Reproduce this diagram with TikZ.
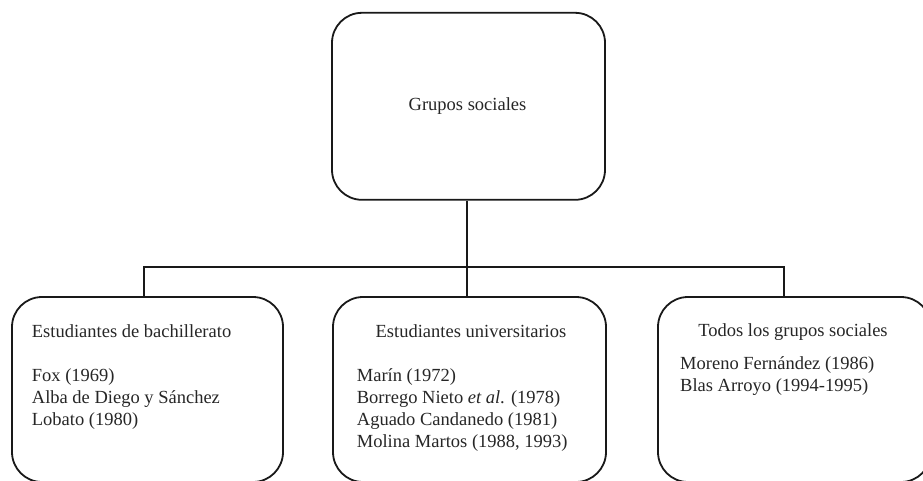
\documentclass[tikz,border=0pt]{standalone}
\usepackage{fontspec}
\setmainfont{Liberation Serif}
\begin{document}
\begin{tikzpicture}[x=1pt,y=-1pt,
  box/.style={draw=black!90, line width=1.8pt, rounded corners=30pt, inner sep=0pt},
  txt/.style={inner sep=0pt, font=\fontsize{18.5}{22}\selectfont, text=black!85},
  link/.style={draw=black!90, line width=1.8pt, line join=miter}]
\useasboundingbox (0,0) rectangle (923,480);

% boxes
\node[box, minimum width=273pt, minimum height=187pt] (top) at (468.5,106.3) {};
\node[box, minimum width=271pt, minimum height=185pt] (left) at (147.5,389.5) {};
\node[box, minimum width=273pt, minimum height=185pt] (mid) at (469.5,389.5) {};
\node[box, minimum width=273pt, minimum height=185pt] (right) at (794.5,389.5) {};

% labels
\node[txt, anchor=base] (ttop) at (467.5,110) {Grupos sociales};

\node[txt, anchor=base west] (tl0) at (31.7,337) {Estudiantes de bachillerato};
\node[txt, anchor=base west] (tl1) at (31.7,381.5) {Fox (1969)};
\node[txt, anchor=base west] (tl2) at (31.7,403.5) {Alba de Diego y Sánchez};
\node[txt, anchor=base west] (tl3) at (31.7,425.5) {Lobato (1980)};

\node[txt, anchor=base] (tm0) at (471,337) {Estudiantes universitarios};
\node[txt, anchor=base west] (tm1) at (356.7,381.5) {Marín (1972)};
\node[txt, anchor=base west] (tm2) at (356.7,403.5) {Borrego Nieto \textit{et al}. (1978)};
\node[txt, anchor=base west] (tm3) at (356.7,425.5) {Aguado Candanedo (1981)};
\node[txt, anchor=base west] (tm4) at (356.7,447.5) {Molina Martos (1988, 1993)};

\node[txt, anchor=base] (tr0) at (793,336.5) {Todos los grupos sociales};
\node[txt, anchor=base west] (tr1) at (680,369) {Moreno Fernández (1986)};
\node[txt, anchor=base west] (tr2) at (680,391) {Blas Arroyo (1994-1995)};

% connectors
\coordinate (j1) at (144,267);
\coordinate (j2) at (466.7,267);
\coordinate (j3) at (784,267);
\draw[link] (left.north -| j1) -- (j1) -- (j3) -- (right.north -| j3);
\draw[link] (top.south -| j2) -- (mid.north -| j2);
\end{tikzpicture}
\end{document}
